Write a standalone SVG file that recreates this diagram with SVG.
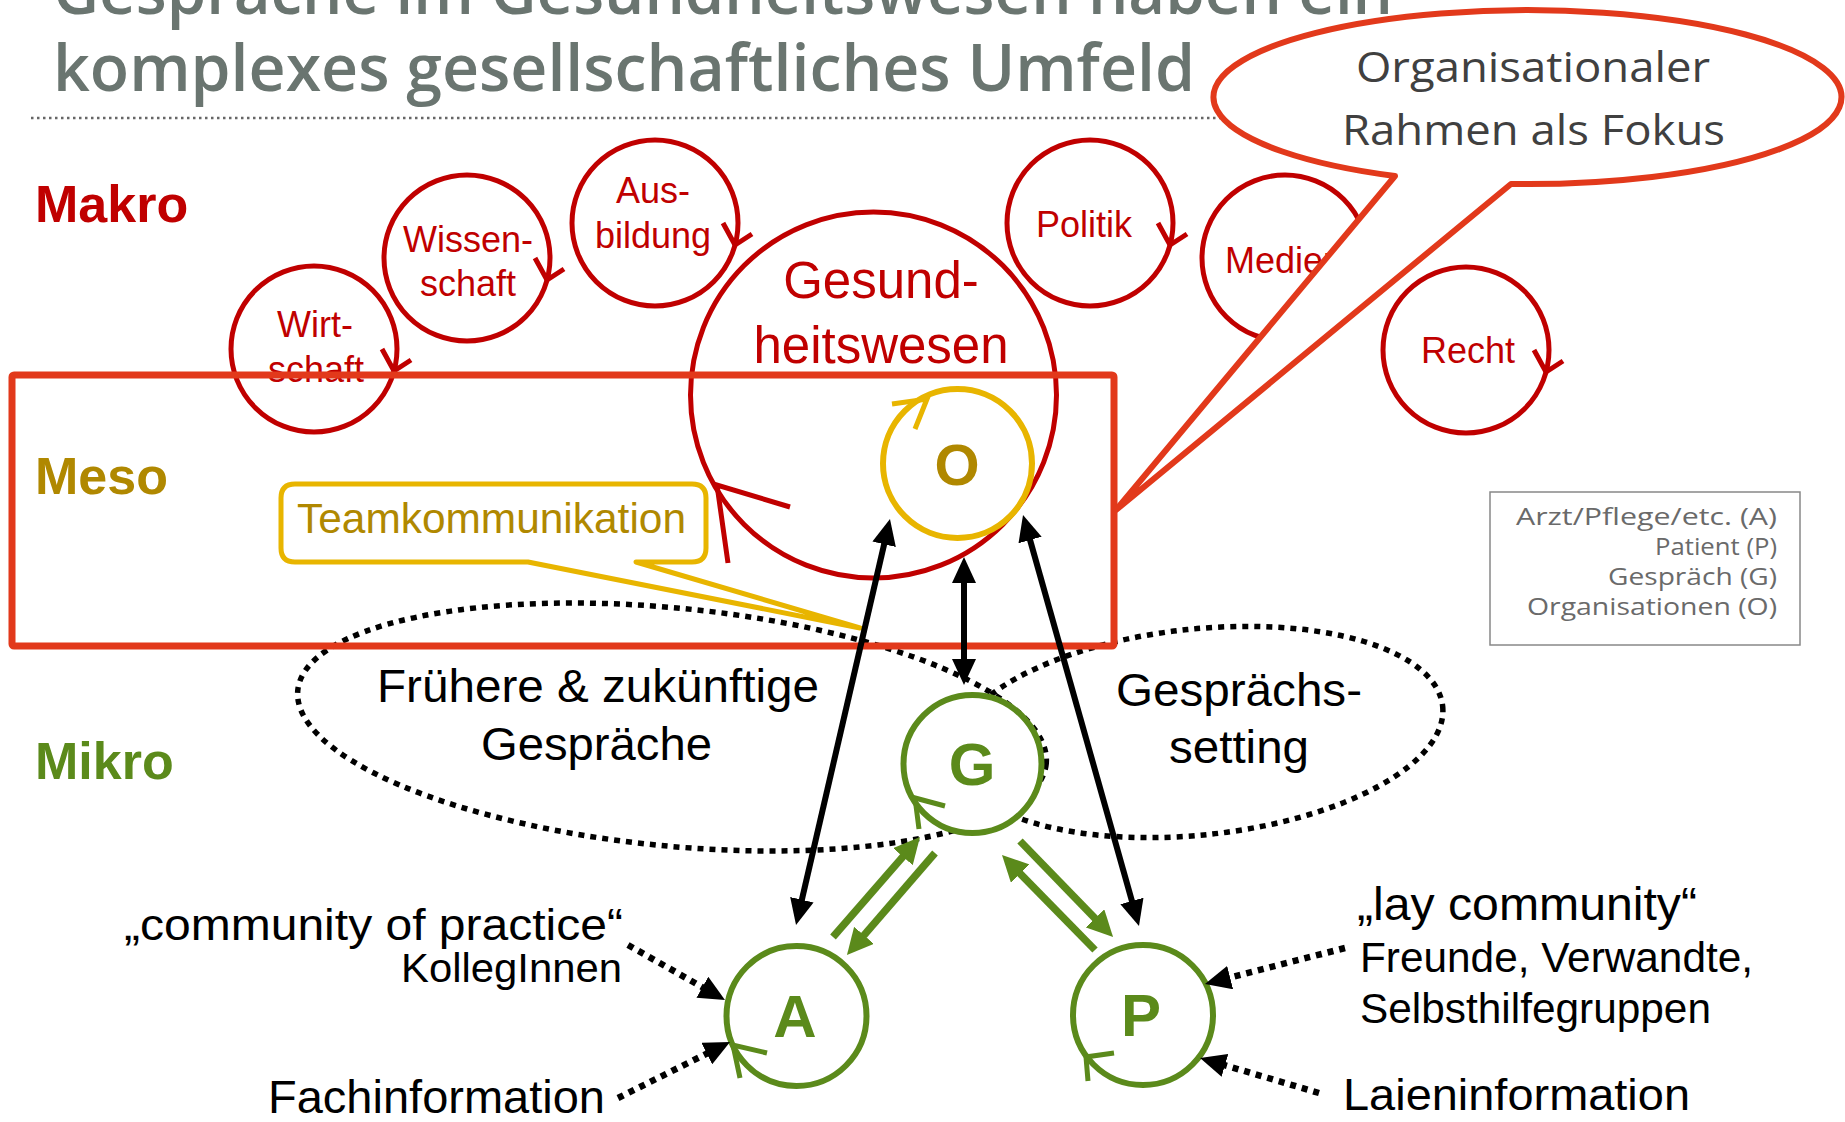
<svg xmlns="http://www.w3.org/2000/svg" width="1845" height="1122" viewBox="0 0 1845 1122">
<style>
.t{font-family:"Liberation Sans",Arial,sans-serif}
.o{font-family:"Open Sans","Liberation Sans",sans-serif}
.red{fill:#c00000}
.mc{fill:none;stroke:#c00000;stroke-width:5}
.tick{fill:none;stroke-width:5;stroke-linejoin:miter}
.gc{fill:#fff;stroke:#5b8a1b;stroke-width:6}
.gt{fill:#5b8a1b;font-weight:bold;font-size:60px}
.dot{fill:none;stroke:#000;stroke-width:5.5;stroke-dasharray:6 6}
.blk{stroke:#000;stroke-width:6;fill:none}
.grn{stroke:#5b8a1b;stroke-width:7.5;fill:none}
.dar{stroke:#000;stroke-width:6.5;stroke-dasharray:6 6;fill:none}
</style>
<defs>
<marker id="ahB" viewBox="0 0 26 24" markerWidth="26" markerHeight="24" refX="15" refY="12" orient="auto-start-reverse" markerUnits="userSpaceOnUse"><path d="M0,0 L26,12 L0,24 z" fill="#000"/></marker>
<marker id="ahG" viewBox="0 0 26 26" markerWidth="26" markerHeight="26" refX="14" refY="13" orient="auto" markerUnits="userSpaceOnUse"><path d="M0,0 L26,13 L0,26 z" fill="#5b8a1b"/></marker>
<polyline id="rtick" points="68,0 80,22 97,11" class="tick" stroke="#c00000"/>
</defs>
<rect width="1845" height="1122" fill="#fff"/>

<g id="title" class="o" fill="#6a7570" font-weight="600" font-size="66">
<text x="53" y="14" textLength="1340" lengthAdjust="spacingAndGlyphs">Gespräche im Gesundheitswesen haben ein</text>
<text x="53" y="91" textLength="1142" lengthAdjust="spacingAndGlyphs">komplexes gesellschaftliches Umfeld</text>
<line x1="31" y1="118" x2="1240" y2="118" stroke="#666" stroke-width="2.5" stroke-dasharray="2.5 3.5"/>
</g>

<g id="levels" class="t" font-weight="bold" font-size="52">
<text x="35" y="222" fill="#c00000">Makro</text>
<text x="35" y="494" fill="#b08800">Meso</text>
<text x="35" y="779" fill="#5b8a1b">Mikro</text>
</g>

<g id="ellipse-frueher">
<ellipse class="dot" cx="672" cy="727" rx="376" ry="119" transform="rotate(5.6 672 727)"/>
<text class="t" font-size="46" x="377" y="702" textLength="442" lengthAdjust="spacingAndGlyphs">Frühere &amp; zukünftige</text>
<text class="t" font-size="46" x="481" y="760" textLength="231" lengthAdjust="spacingAndGlyphs">Gespräche</text>
</g>
<g id="ellipse-setting">
<ellipse class="dot" cx="1198" cy="732" rx="246" ry="103" transform="rotate(-6 1198 732)"/>
<text class="t" font-size="46" x="1116" y="706" textLength="246" lengthAdjust="spacingAndGlyphs">Gesprächs-</text>
<text class="t" font-size="46" x="1169" y="763" textLength="140" lengthAdjust="spacingAndGlyphs">setting</text>
</g>

<g id="wirtschaft">
<circle class="mc" cx="314" cy="349" r="83"/>
<use href="#rtick" transform="translate(314 349)"/>
<text class="t red" font-size="36" text-anchor="middle" x="315" y="337">Wirt-</text>
<text class="t red" font-size="36" text-anchor="middle" x="316" y="382">schaft</text>
</g>
<g id="wissenschaft">
<circle class="mc" cx="467" cy="258" r="83"/>
<use href="#rtick" transform="translate(467 258)"/>
<text class="t red" font-size="36" text-anchor="middle" x="468" y="252">Wissen-</text>
<text class="t red" font-size="36" text-anchor="middle" x="468" y="296">schaft</text>
</g>
<g id="ausbildung">
<circle class="mc" cx="655" cy="223" r="83"/>
<use href="#rtick" transform="translate(655 223)"/>
<text class="t red" font-size="36" text-anchor="middle" x="653" y="203">Aus-</text>
<text class="t red" font-size="36" text-anchor="middle" x="653" y="248">bildung</text>
</g>
<g id="politik">
<circle class="mc" cx="1090" cy="223" r="83"/>
<use href="#rtick" transform="translate(1090 223)"/>
<text class="t red" font-size="36" text-anchor="middle" x="1084" y="237">Politik</text>
</g>
<g id="medien">
<circle class="mc" cx="1285" cy="258" r="83"/>
<text class="t red" font-size="36" x="1225" y="273">Medien</text>
</g>
<g id="recht">
<circle class="mc" cx="1466" cy="350" r="83"/>
<use href="#rtick" transform="translate(1466 350)"/>
<text class="t red" font-size="36" text-anchor="middle" x="1468" y="363">Recht</text>
</g>

<g id="gesundheitswesen">
<circle class="mc" cx="873.5" cy="395" r="183"/>
<polyline class="tick" stroke="#c00000" points="790,507 717,485 728,563"/>
<text class="t red" font-size="51" text-anchor="middle" x="881" y="298">Gesund-</text>
<text class="t red" font-size="51" text-anchor="middle" x="881" y="363">heitswesen</text>
</g>

<g id="O">
<circle cx="957.5" cy="463.5" r="74.5" fill="none" stroke="#e8b500" stroke-width="6"/>
<polyline class="tick" stroke="#e8b500" stroke-width="6" points="892,404 927,399 915,429"/>
<text class="t" font-weight="bold" font-size="58" fill="#b08800" text-anchor="middle" x="957" y="485">O</text>
</g>

<g id="teamkommunikation">
<path d="M295,484 H692 Q706,484 706,498 V548 Q706,562 692,562 H636 L860,628 L528,562 H295 Q281,562 281,548 V498 Q281,484 295,484 Z" fill="#fff" stroke="#e8b500" stroke-width="5" stroke-linejoin="round"/>
<text class="t" font-size="42" fill="#b08800" x="297" y="533" textLength="389" lengthAdjust="spacingAndGlyphs">Teamkommunikation</text>
</g>

<g id="meso-frame">
<rect x="12" y="375" width="1102" height="271" rx="2" fill="none" stroke="#e2391b" stroke-width="7"/>
</g>

<g id="G">
<circle class="gc" cx="972.5" cy="764" r="69"/>
<polyline class="tick" stroke="#5b8a1b" stroke-width="6" points="945,806 915,798 919,829"/>
<text class="t gt" text-anchor="middle" x="972" y="785">G</text>
</g>
<g id="A">
<circle class="gc" cx="796.5" cy="1016" r="70"/>
<polyline class="tick" stroke="#5b8a1b" stroke-width="6" points="767,1053 733,1045 740,1078"/>
<text class="t gt" text-anchor="middle" x="795" y="1037">A</text>
</g>
<g id="P">
<circle class="gc" cx="1143" cy="1015" r="70"/>
<polyline class="tick" stroke="#5b8a1b" stroke-width="6" points="1114,1053 1086,1057 1088,1081"/>
<text class="t gt" text-anchor="middle" x="1141" y="1036">P</text>
</g>

<g id="sources" class="t">
<text font-size="45" x="124" y="940" textLength="499" lengthAdjust="spacingAndGlyphs">„community of practice“</text>
<text font-size="41" x="401" y="982" textLength="221" lengthAdjust="spacingAndGlyphs">KollegInnen</text>
<text font-size="46" x="268" y="1113" textLength="337" lengthAdjust="spacingAndGlyphs">Fachinformation</text>
<text font-size="46" x="1357" y="920" textLength="340" lengthAdjust="spacingAndGlyphs">„lay community“</text>
<text font-size="42" x="1360" y="972" textLength="393" lengthAdjust="spacingAndGlyphs">Freunde, Verwandte,</text>
<text font-size="42" x="1360" y="1023" textLength="351" lengthAdjust="spacingAndGlyphs">Selbsthilfegruppen</text>
<text font-size="44" x="1343" y="1110" textLength="347" lengthAdjust="spacingAndGlyphs">Laieninformation</text>
</g>

<g id="connectors">
<line class="blk" x1="798.5" y1="914.3" x2="887.5" y2="529.7" marker-start="url(#ahB)" marker-end="url(#ahB)"/>
<line class="blk" x1="1136" y1="915.4" x2="1026" y2="525.6" marker-start="url(#ahB)" marker-end="url(#ahB)"/>
<line class="blk" x1="964" y1="674" x2="964" y2="568" marker-start="url(#ahB)" marker-end="url(#ahB)"/>
<line class="grn" x1="833" y1="937" x2="912.1" y2="846.1" marker-end="url(#ahG)"/>
<line class="grn" x1="935" y1="853" x2="854.8" y2="945.9" marker-end="url(#ahG)"/>
<line class="grn" x1="1095" y1="950" x2="1010.4" y2="863.6" marker-end="url(#ahG)"/>
<line class="grn" x1="1020" y1="841" x2="1104.7" y2="928.4" marker-end="url(#ahG)"/>
<line class="dar" x1="628" y1="945" x2="715.4" y2="994.6" marker-end="url(#ahB)"/>
<line class="dar" x1="618" y1="1098" x2="720.2" y2="1046.9" marker-end="url(#ahB)"/>
<line class="dar" x1="1345" y1="948" x2="1215.6" y2="981.3" marker-end="url(#ahB)"/>
<line class="dar" x1="1319" y1="1093" x2="1210.6" y2="1061.1" marker-end="url(#ahB)"/>
</g>

<g id="bubble">
<path d="M1511,184 A314,87 0 1 0 1395,176 L1116,510 Z" fill="#fff" stroke="#e2391b" stroke-width="6" stroke-linejoin="round"/>
<text class="o" font-size="42" fill="#404040" x="1356" y="82" textLength="354" lengthAdjust="spacingAndGlyphs">Organisationaler</text>
<text class="o" font-size="42" fill="#404040" x="1342" y="145" textLength="383" lengthAdjust="spacingAndGlyphs">Rahmen als Fokus</text>
</g>

<g id="legend">
<rect x="1490" y="492" width="310" height="153" fill="#fff" stroke="#888" stroke-width="1.5"/>
<g class="o" font-size="23" fill="#6a6a6a">
<text x="1516" y="525" textLength="261" lengthAdjust="spacingAndGlyphs">Arzt/Pflege/etc. (A)</text>
<text x="1655" y="555" textLength="122" lengthAdjust="spacingAndGlyphs">Patient (P)</text>
<text x="1608" y="585" textLength="169" lengthAdjust="spacingAndGlyphs">Gespräch (G)</text>
<text x="1527" y="615" textLength="250" lengthAdjust="spacingAndGlyphs">Organisationen (O)</text>
</g>
</g>
</svg>
